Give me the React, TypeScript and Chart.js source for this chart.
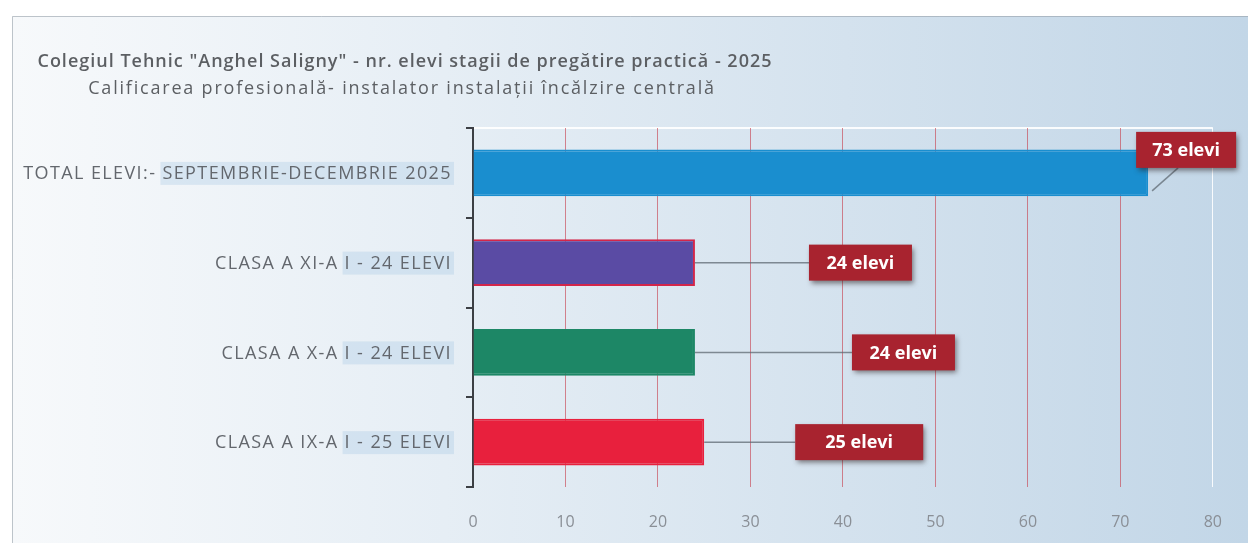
import React, { useEffect, useRef } from 'react';
import { Chart, registerables } from 'chart.js';

Chart.register(...registerables);

const titleLines = [
  'Colegiul Tehnic "Anghel Saligny" - nr. elevi stagii de pregătire practică - 2025',
  'Calificarea profesională- instalator instalații încălzire centrală',
];
const categories = [
  'TOTAL ELEVI:- SEPTEMBRIE-DECEMBRIE 2025',
  'CLASA A XI-A I - 24 ELEVI',
  'CLASA A X-A I - 24 ELEVI',
  'CLASA A IX-A I - 25 ELEVI',
];
const values = [73, 24, 24, 25];
const valueLabels = ['73 elevi', '24 elevi', '24 elevi', '25 elevi'];
const barColors = ['#1a8ecf', '#5a4ba4', '#1d8766', '#e8203d'];
const barBorders = ['#1a8ecf', '#d3264a', '#1d8766', '#e8203d'];

// label box layout (pixels relative to bar end / bar centre)
const labelLayout = [
  { dx: -12, dy: -23, w: 100 },
  { dx: 114, dy: 0, w: 103 },
  { dx: 157, dy: 0, w: 103 },
  { dx: 91, dy: 0, w: 128 },
];

const bgPlugin = {
  id: 'bg',
  beforeDraw(chart: any) {
    const { ctx, width, height } = chart;
    ctx.save();
    ctx.fillStyle = '#ffffff';
    ctx.fillRect(0, 0, width, height);
    const g = ctx.createLinearGradient(12, 0, width, 0);
    g.addColorStop(0, '#f7f9fb');
    g.addColorStop(0.35, '#e6eef5');
    g.addColorStop(1, '#c2d6e7');
    ctx.fillStyle = g;
    ctx.fillRect(12, 16, width - 12, height - 16);
    ctx.strokeStyle = 'rgba(150,160,170,0.6)';
    ctx.lineWidth = 1;
    ctx.beginPath();
    ctx.moveTo(12.5, height);
    ctx.lineTo(12.5, 16.5);
    ctx.lineTo(width, 16.5);
    ctx.stroke();
    // title
    ctx.fillStyle = '#5c5f63';
    ctx.textAlign = 'center';
    ctx.textBaseline = 'middle';
    ctx.font = '600 18px "Open Sans", sans-serif';
    (ctx as any).letterSpacing = '1px';
    ctx.fillText(titleLines[0], 405, 62);
    ctx.font = '18px "Open Sans", sans-serif';
    (ctx as any).letterSpacing = '1.8px';
    ctx.fillText(titleLines[1], 402, 89);
    (ctx as any).letterSpacing = '0px';
    // white top line of plot
    const ca = chart.chartArea;
    ctx.strokeStyle = 'rgba(255,255,255,0.9)';
    ctx.lineWidth = 2;
    ctx.beginPath();
    ctx.moveTo(ca.left, ca.top);
    ctx.lineTo(ca.right, ca.top);
    ctx.stroke();
    ctx.restore();
  },
  beforeDatasetsDraw(chart: any) {
    const { ctx } = chart;
    const ys = chart.scales.y;
    ctx.save();
    ctx.font = '18px "Open Sans", sans-serif';
    (ctx as any).letterSpacing = '1.4px';
    ctx.textAlign = 'right';
    ctx.textBaseline = 'middle';
    const right = 452;
    categories.forEach((lab: string, i: number) => {
      const y = ys.getPixelForTick(i);
      const cut = i === 0 ? lab.indexOf(':- ') + 3 : lab.indexOf('-A ') + 3;
      const tail = lab.slice(cut);
      const tw = ctx.measureText(tail).width;
      ctx.fillStyle = 'rgba(160,196,225,0.3)';
      ctx.fillRect(right - tw - 2, y - 11, tw + 4, 23);
      ctx.fillStyle = '#63676d';
      ctx.fillText(lab, right, y + 1);
    });
    ctx.restore();
  },
};

const labelPlugin = {
  id: 'valueBoxes',
  afterDatasetsDraw(chart: any) {
    const { ctx } = chart;
    const meta = chart.getDatasetMeta(0);
    ctx.save();
    meta.data.forEach((bar: any, i: number) => {
      const L = labelLayout[i];
      const bx = bar.x + L.dx;
      const cy = bar.y + L.dy;
      const h = 36;
      ctx.strokeStyle = 'rgba(95,105,115,0.75)';
      ctx.lineWidth = 1.5;
      ctx.beginPath();
      if (i === 0) {
        ctx.moveTo(bar.x + 4, bar.y + 18);
        ctx.lineTo(bar.x + 30, cy + h / 2);
      } else {
        ctx.moveTo(bar.x, bar.y);
        ctx.lineTo(bx, cy);
      }
      ctx.stroke();
      ctx.shadowColor = 'rgba(40,30,30,0.55)';
      ctx.shadowBlur = 5;
      ctx.shadowOffsetX = 2;
      ctx.shadowOffsetY = 3;
      ctx.fillStyle = '#a8232f';
      ctx.fillRect(bx, cy - h / 2, L.w, h);
      ctx.shadowColor = 'transparent';
      ctx.fillStyle = '#ffffff';
      ctx.font = 'bold 18px "Open Sans", sans-serif';
      ctx.textAlign = 'center';
      ctx.textBaseline = 'middle';
      ctx.fillText(valueLabels[i], bx + L.w / 2, cy + 1);
    });
    ctx.restore();
  },
};

export default function App() {
  const ref = useRef<HTMLCanvasElement>(null);
  useEffect(() => {
    document.body.style.margin = '0';
    const chart = new Chart(ref.current!, {
      type: 'bar',
      data: {
        labels: categories,
        datasets: [
          {
            data: values,
            backgroundColor: barColors,
            borderColor: barBorders,
            borderWidth: 2,
            categoryPercentage: 1,
            barPercentage: 0.52,
          },
        ],
      },
      options: {
        indexAxis: 'y',
        animation: false,
        responsive: true,
        maintainAspectRatio: false,
        layout: { padding: { top: 128, right: 30, bottom: 0, left: 0 } },
        plugins: {
          legend: { display: false },
          tooltip: { enabled: false },
          title: { display: false },
        },
        scales: {
          x: {
            min: 0,
            max: 80,
            afterFit: (s: any) => {
              s.height = 56;
            },
            ticks: {
              stepSize: 10,
              color: '#8a8f96',
              font: { size: 16, family: '"Open Sans", sans-serif' },
              padding: 26,
            },
            grid: {
              drawTicks: false,
              color: (c: any) =>
                c.tick && c.tick.value === 0
                  ? 'rgba(0,0,0,0)'
                  : c.tick && c.tick.value === 80
                  ? 'rgba(255,255,255,0.9)'
                  : 'rgba(200,70,85,0.65)',
              lineWidth: 1,
            },
            border: { display: false },
          },
          y: {
            afterFit: (s: any) => {
              s.width = 473;
            },
            ticks: { display: false },
            grid: {
              drawOnChartArea: false,
              drawTicks: true,
              tickLength: 7,
              color: '#3c3f44',
              lineWidth: 2,
            },
            border: { display: true, color: '#3c3f44', width: 2 },
          },
        },
      },
      plugins: [bgPlugin, labelPlugin],
    });
    return () => chart.destroy();
  }, []);
  return (
    <div style={{ width: 1248, height: 543, position: 'relative' }}>
      <canvas ref={ref} />
    </div>
  );
}
